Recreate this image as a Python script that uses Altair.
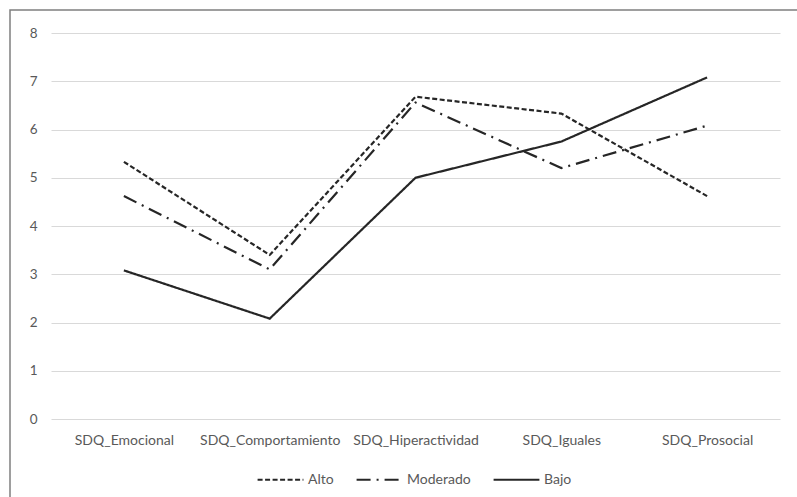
import altair as alt
import pandas as pd

categories = ["SDQ_Emocional", "SDQ_Comportamiento", "SDQ_Hiperactividad", "SDQ_Iguales", "SDQ_Prosocial"]
alto = [5.33, 3.40, 6.68, 6.33, 4.62]
moderado = [4.62, 3.10, 6.56, 5.20, 6.08]
bajo = [3.08, 2.08, 5.00, 5.75, 7.08]
series = ["Alto", "Moderado", "Bajo"]

rows = []
for name, vals in zip(series, [alto, moderado, bajo]):
    for c, v in zip(categories, vals):
        rows.append({"cat": c, "value": v, "grupo": name})
df = pd.DataFrame(rows)

FONT = "Lato"
TXT = "#595959"

lines = alt.Chart(df).mark_line(strokeWidth=2.2, color="#262626").encode(
    x=alt.X("cat:N", sort=categories, scale=alt.Scale(type="point", padding=0.5),
            axis=alt.Axis(title=None, labelAngle=0, domain=False, ticks=False, grid=False,
                          labelFont=FONT, labelFontSize=14, labelColor=TXT, labelPadding=14)),
    y=alt.Y("value:Q", scale=alt.Scale(domain=[0, 8], nice=False),
            axis=alt.Axis(title=None, values=list(range(0, 9)), domain=False, ticks=False,
                          grid=True, gridColor="#d9d9d9", gridWidth=1.2,
                          labelFont=FONT, labelFontSize=13.5, labelColor=TXT, labelPadding=14)),
    strokeDash=alt.StrokeDash("grupo:N", sort=series,
                              scale=alt.Scale(domain=series, range=[[5, 2.5], [14, 6, 2, 6], [1, 0]]),
                              legend=alt.Legend(title=None, orient="none", direction="horizontal",
                                                legendX=205, legendY=422,
                                                symbolType="stroke", symbolSize=2100,
                                                symbolStrokeColor="#262626", symbolStrokeWidth=2.2,
                                                labelFont=FONT, labelFontSize=14, labelColor=TXT,
                                                columnPadding=18, labelOffset=3)),
    detail="grupo:N",
)

frame = alt.Chart(pd.DataFrame({"a": [0]})).mark_rect(
    fillOpacity=0, stroke="#7f7f7f", strokeWidth=1.5, clip=False
).encode(x=alt.value(-41), x2=alt.value(790), y=alt.value(-23), y2=alt.value(520))

chart = alt.layer(frame, lines).properties(
    width=729, height=386,
    autosize=alt.AutoSizeParams(type="none"),
    padding={"left": 51, "top": 33, "right": 17, "bottom": 78},
    background="white",
).configure_view(stroke=None)

chart.save("out.html", embed_options={"renderer": "svg", "actions": False})
